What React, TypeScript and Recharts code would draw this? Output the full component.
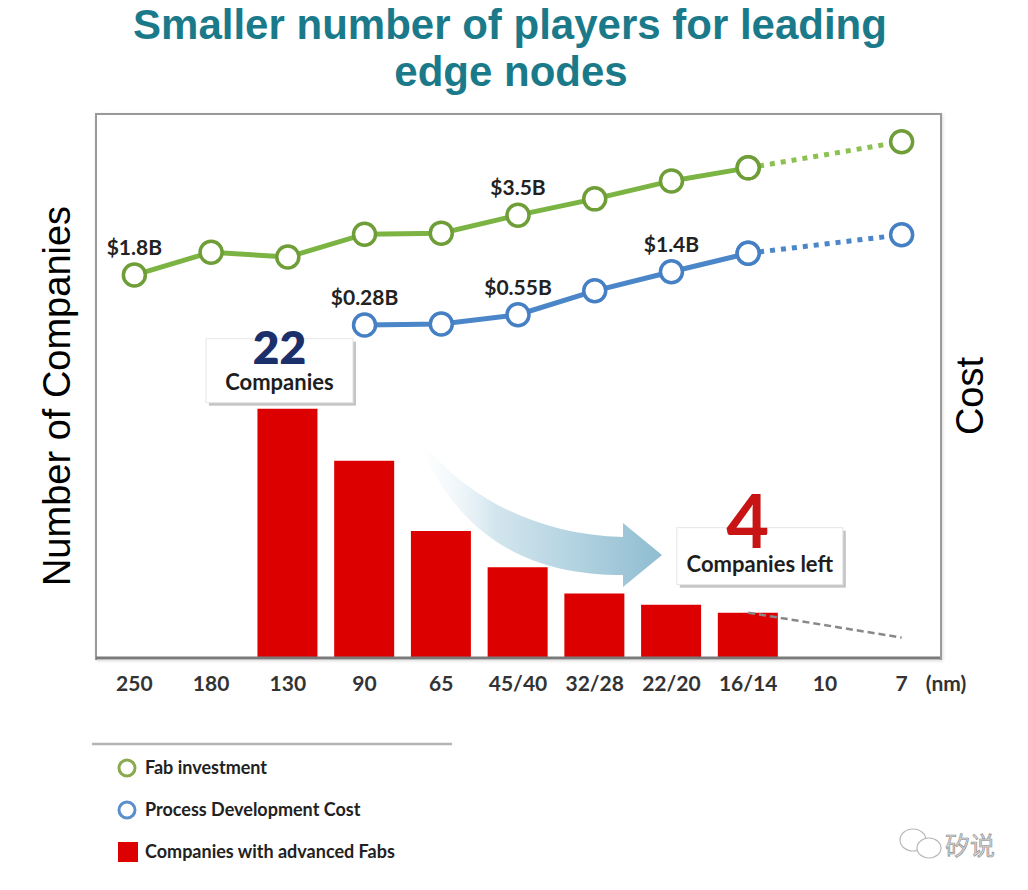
import React from 'react';
import { ComposedChart, Bar, Line, XAxis, YAxis, LabelList } from 'recharts';

// process nodes (nm)
const nodes = ['250', '180', '130', '90', '65', '45/40', '32/28', '22/20', '16/14', '10', '7'];

// companies with advanced fabs
const companies = [null, null, 22, 17.4, 11.2, 8, 5.7, 4.7, 4, null, null];
const companiesTrend = [null, null, null, null, null, null, null, null, 4, null, 1.8];
const barCaptions = [null, null, 'Companies', null, null, null, null, null, 'Companies left', null, null];

// relative cost index (schematic scale)
const fabCost = [70.4, 74.6, 73.7, 77.9, 78.1, 81.4, 84.4, 87.7, 90.1, null, null];
const fabCostProj = [null, null, null, null, null, null, null, null, 90.1, null, 94.9];
const fabLabels = ['$1.8B', null, null, null, null, '$3.5B', null, null, null, null, null];

const devCost = [null, null, null, 61.2, 61.4, 63.1, 67.5, 71.0, 74.4, null, null];
const devCostProj = [null, null, null, null, null, null, null, null, 74.4, null, 77.8];
const devLabels = [null, null, null, '$0.28B', null, '$0.55B', null, '$1.4B', null, null, null];

const rows = nodes.map((node, i) => ({
  node,
  companies: companies[i],
  caption: barCaptions[i],
  trend: companiesTrend[i],
  fab: fabCost[i],
  fabProj: fabCostProj[i],
  fabLabel: fabLabels[i],
  dev: devCost[i],
  devProj: devCostProj[i],
  devLabel: devLabels[i],
}));

const GREEN = '#7cb444';
const BLUE = '#4a86c8';
const RED = '#dd0000';
const FONT = 'Lato, "Open Sans", sans-serif';

const greenDot = { r: 11, fill: '#fff', stroke: '#6f9e38', strokeWidth: 3.5, strokeDasharray: 'none' };
const blueDot = { r: 11, fill: '#fff', stroke: '#4680c4', strokeWidth: 3.5, strokeDasharray: 'none' };

const BarNote = (props: any) => {
  const vb = props.viewBox || props;
  const x = vb.x ?? props.x;
  const y = vb.y ?? props.y;
  const width = vb.width ?? props.width;
  const caption = props.value;
  if (!caption) return null;
  const i = barCaptions.indexOf(caption);
  const cx = x + width / 2;
  const last = i === barCaptions.length - 3;
  const w = last ? 166 : 147;
  const h = last ? 57 : 64;
  const bx = (last ? cx + 12 : cx - 8) - w / 2;
  const by = y - (last ? 28 : 6) - h;
  const num = String(companies[i]);
  return (
    <g>
      <rect x={bx + 3} y={by + 3} width={w} height={h} fill="#c4c4c4" />
      <rect x={bx} y={by} width={w} height={h} fill="#fff" stroke="#e6e6e6" />
      {last ? (
        <>
          <text x={bx + w / 2 - 12} y={by + 20} textAnchor="middle" fontSize={74} fontWeight={700} fill="#c81414" fontFamily={FONT}>{num}</text>
          <text x={bx + w / 2} y={by + 44} textAnchor="middle" fontSize={22} fontWeight={700} fill="#1e1e1e" fontFamily={FONT}>{caption}</text>
        </>
      ) : (
        <>
          <text x={bx + w / 2} y={by + 25} textAnchor="middle" fontSize={46} fontWeight={800} fill="#1b2f6b" fontFamily={FONT}>{num}</text>
          <text x={bx + w / 2} y={by + 51} textAnchor="middle" fontSize={22} fontWeight={700} fill="#1e1e1e" fontFamily={FONT}>{caption}</text>
        </>
      )}
    </g>
  );
};

const labelStyle = { fill: '#222', fontSize: 21, fontWeight: 700, fontFamily: FONT };

export default function App() {
  return (
    <div style={{ position: 'absolute', left: 0, top: 0, width: 1028, height: 890, background: '#fff' }}>
      {/* plot frame */}
      <div
        style={{
          position: 'absolute', left: 95, top: 113, width: 843, height: 545,
          borderLeft: '2px solid #9a9a9a', borderTop: '2px solid #9a9a9a', borderRight: '2px solid #9a9a9a',
          boxShadow: '1px 1px 3px rgba(0,0,0,0.15)',
        }}
      />
      <div style={{ position: 'absolute', left: 0, top: 0 }}>
        <ComposedChart width={1028} height={720} data={rows} margin={{ top: 114, right: 88, bottom: 22, left: 96 }}>
          <XAxis
            dataKey="node"
            height={40}
            tickLine={false}
            tickMargin={12}
            axisLine={{ stroke: '#7a7a7a', strokeWidth: 3 }}
            tick={{ fill: '#333', fontSize: 21, fontWeight: 700, fontFamily: FONT }}
            interval={0}
          />
          <YAxis yAxisId="count" domain={[0, 48]} hide />
          <YAxis yAxisId="cost" orientation="right" domain={[0, 100]} hide />
          <Line
            yAxisId="count" dataKey="trend" stroke="#888" strokeWidth={2.5} strokeDasharray="7 4"
            dot={false} activeDot={false} connectNulls isAnimationActive={false}
          />
          <Bar yAxisId="count" dataKey="companies" fill={RED} barSize={60} isAnimationActive={false}>
            <LabelList dataKey="caption" content={BarNote} />
          </Bar>
          <Line
            yAxisId="cost" dataKey="fab" stroke={GREEN} strokeWidth={5} dot={greenDot}
            activeDot={false} isAnimationActive={false}
          >
            <LabelList dataKey="fabLabel" position="top" offset={20} {...labelStyle} />
          </Line>
          <Line
            yAxisId="cost" dataKey="fabProj" stroke="#8cc152" strokeWidth={5} strokeDasharray="5 6"
            dot={greenDot} activeDot={false} connectNulls isAnimationActive={false}
          />
          <Line
            yAxisId="cost" dataKey="dev" stroke={BLUE} strokeWidth={5} dot={blueDot}
            activeDot={false} isAnimationActive={false}
          >
            <LabelList dataKey="devLabel" position="top" offset={20} {...labelStyle} />
          </Line>
          <Line
            yAxisId="cost" dataKey="devProj" stroke={BLUE} strokeWidth={5} strokeDasharray="5 6"
            dot={blueDot} activeDot={false} connectNulls isAnimationActive={false}
          />
        </ComposedChart>
      </div>
      <svg width={1028} height={890} style={{ position: 'absolute', left: 0, top: 0, pointerEvents: 'none' }}>
        <defs>
          <linearGradient id="arrowGrad" x1="0" y1="0" x2="1" y2="0">
            <stop offset="0%" stopColor="#ffffff" stopOpacity={0} />
            <stop offset="35%" stopColor="#d3e6ee" />
            <stop offset="100%" stopColor="#8fbdd1" />
          </linearGradient>
        </defs>
        <text x={510} y={39} textAnchor="middle" fontSize={42} fontWeight={700} fill="#1b7a8a" fontFamily='"Liberation Sans", Arial, sans-serif'>
          Smaller number of players for leading
        </text>
        <text x={511} y={86} textAnchor="middle" fontSize={42} fontWeight={700} fill="#1b7a8a" fontFamily='"Liberation Sans", Arial, sans-serif'>
          edge nodes
        </text>
        <text transform="rotate(-90 57 396)" x={57} y={396} textAnchor="middle" dominantBaseline="central" fontSize={38} fill="#000" fontFamily='"Liberation Sans", Arial, sans-serif'>
          Number of Companies
        </text>
        <text transform="rotate(-90 970 396)" x={970} y={396} textAnchor="middle" dominantBaseline="central" fontSize={38} fill="#000" fontFamily='"Liberation Sans", Arial, sans-serif'>
          Cost
        </text>
        <text x={946} y={691} textAnchor="middle" fontSize={21} fontWeight={700} fill="#333" fontFamily={FONT}>(nm)</text>
        {/* trend arrow */}
        <path
          d="M 405 415 C 440 480, 520 535, 623 537 L 623 523 L 662 555 L 623 587 L 623 575 C 520 575, 450 530, 412 425 Z"
          fill="url(#arrowGrad)"
        />
        {/* legend */}
        <line x1={92} y1={744} x2={452} y2={744} stroke="#b5b5b5" strokeWidth={2.5} />
        <circle cx={127} cy={768} r={8} fill="#fff" stroke="#8aaa50" strokeWidth={3} />
        <text x={145} y={774} fontSize={18} fontWeight={700} fill="#222" fontFamily={FONT}>Fab investment</text>
        <circle cx={127} cy={810} r={8} fill="#fff" stroke="#5b8fcc" strokeWidth={3} />
        <text x={145} y={816} fontSize={18} fontWeight={700} fill="#222" fontFamily={FONT}>Process Development Cost</text>
        <rect x={118} y={842} width={20} height={20} fill={RED} />
        <text x={145} y={858} fontSize={18} fontWeight={700} fill="#222" fontFamily={FONT}>Companies with advanced Fabs</text>
        {/* watermark */}
        <g fill="none" stroke="#b8b8b8" strokeWidth={1.2}>
          <ellipse cx={913} cy={840} rx={13} ry={11} />
          <ellipse cx={929} cy={848} rx={12} ry={10} fill="#fff" />
        </g>
        <text x={945} y={855} fontSize={25} fill="#d6d6d6" stroke="#888" strokeWidth={0.6} fontFamily='"Noto Sans CJK SC", sans-serif'>矽说</text>
      </svg>
    </div>
  );
}
